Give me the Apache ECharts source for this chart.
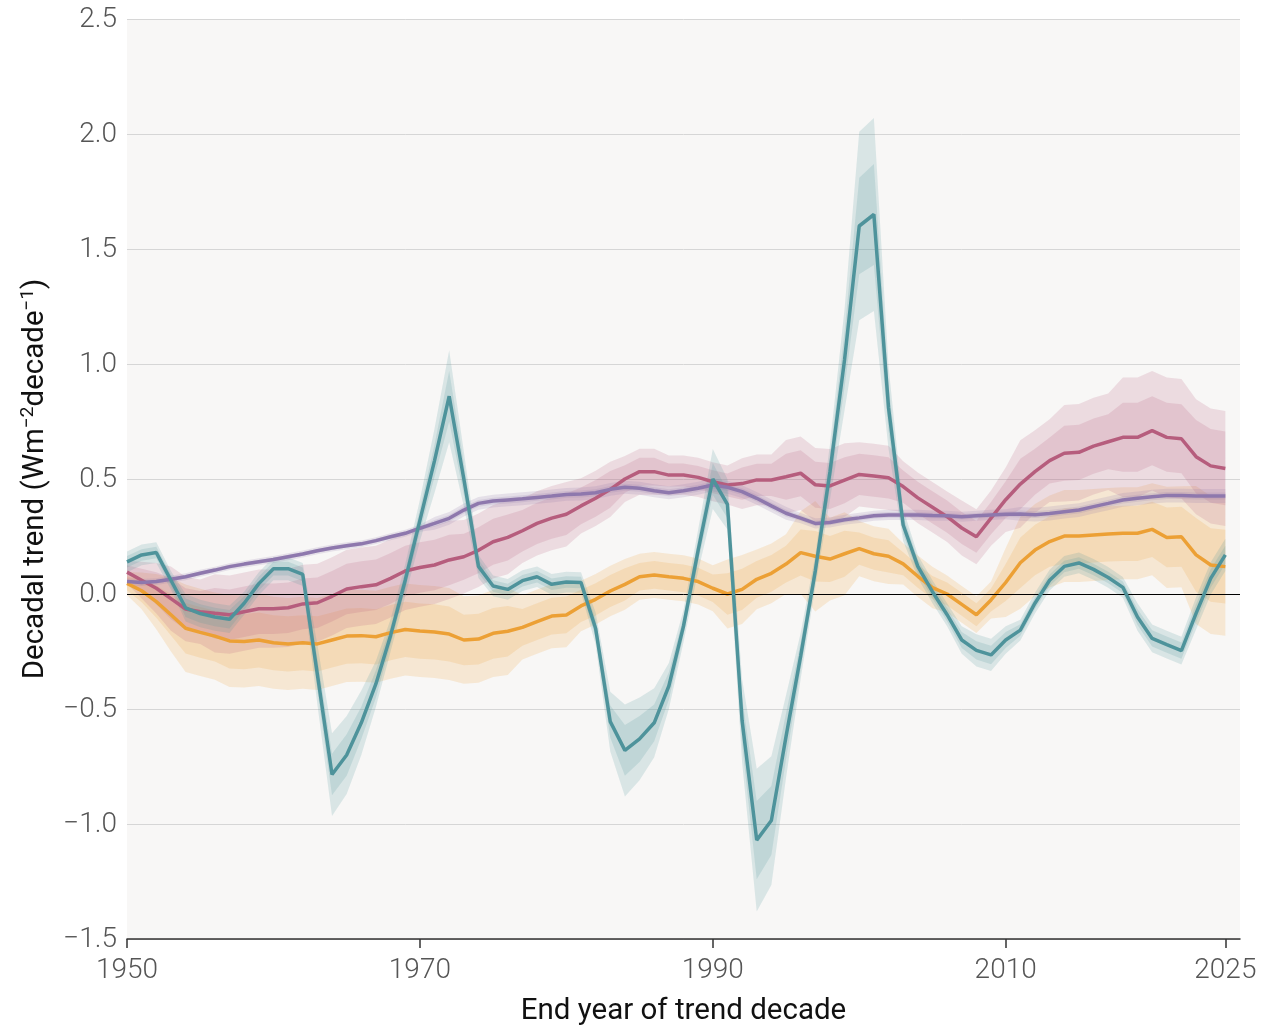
<!DOCTYPE html>
<html>
<head>
<meta charset="utf-8">
<script src="https://cdn.jsdelivr.net/npm/echarts@6/dist/echarts.min.js"></script>
<style>
  html, body { margin: 0; padding: 0; background: #ffffff; }
  #chart { width: 1261px; height: 1026px; }
</style>
</head>
<body>
<div id="chart"></div>
<script>
// end years of the trend decade, 1950..2025
const firstYear = 1950;
const tickYears = [1950, 1970, 1990, 2010, 2025];

// teal series (most variable)
const tealMean = [0.14, 0.17, 0.18, 0.06, -0.06, -0.085, -0.10, -0.11, -0.04, 0.045,
  0.11, 0.11, 0.085, -0.35, -0.785, -0.70, -0.56, -0.39, -0.18, 0.06,
  0.32, 0.58, 0.86, 0.50, 0.12, 0.035, 0.02, 0.058, 0.075, 0.042,
  0.052, 0.05, -0.15, -0.555, -0.68, -0.63, -0.56, -0.40, -0.14, 0.19,
  0.50, 0.39, -0.55, -1.07, -0.985, -0.62, -0.27, 0.10, 0.53, 1.02,
  1.60, 1.65, 0.81, 0.30, 0.12, 0.01, -0.09, -0.20, -0.245, -0.265,
  -0.20, -0.157, -0.04, 0.06, 0.12, 0.135, 0.107, 0.072, 0.029, -0.10,
  -0.193, -0.22, -0.246, -0.084, 0.068, 0.17];
const tealInner = [0.025, 0.025, 0.025, 0.025, 0.04, 0.04, 0.04, 0.04, 0.03, 0.03,
  0.03, 0.03, 0.03, 0.07, 0.09, 0.09, 0.07, 0.06, 0.04, 0.04,
  0.05, 0.07, 0.11, 0.07, 0.03, 0.025, 0.025, 0.025, 0.025, 0.025,
  0.025, 0.025, 0.04, 0.07, 0.11, 0.10, 0.08, 0.06, 0.04, 0.05,
  0.07, 0.06, 0.10, 0.17, 0.15, 0.10, 0.06, 0.04, 0.07, 0.12,
  0.21, 0.22, 0.10, 0.04, 0.03, 0.03, 0.03, 0.035, 0.04, 0.04,
  0.035, 0.025, 0.025, 0.025, 0.025, 0.025, 0.025, 0.025, 0.025, 0.035,
  0.035, 0.035, 0.035, 0.04, 0.04, 0.04];
const tealOuter = [0.045, 0.045, 0.045, 0.04, 0.06, 0.06, 0.06, 0.06, 0.05, 0.05,
  0.05, 0.05, 0.05, 0.13, 0.18, 0.17, 0.14, 0.10, 0.07, 0.07,
  0.09, 0.14, 0.20, 0.12, 0.05, 0.045, 0.045, 0.045, 0.045, 0.045,
  0.045, 0.045, 0.07, 0.13, 0.20, 0.18, 0.15, 0.10, 0.07, 0.09,
  0.13, 0.11, 0.18, 0.31, 0.28, 0.18, 0.10, 0.07, 0.12, 0.22,
  0.41, 0.42, 0.18, 0.07, 0.05, 0.05, 0.05, 0.06, 0.07, 0.07,
  0.06, 0.045, 0.045, 0.045, 0.045, 0.045, 0.045, 0.045, 0.045, 0.06,
  0.06, 0.06, 0.06, 0.07, 0.07, 0.07];

// crimson series
const redMean = [0.095, 0.06, 0.025, -0.02, -0.065, -0.077, -0.084, -0.09, -0.077, -0.064,
  -0.064, -0.06, -0.043, -0.038, -0.01, 0.022, 0.032, 0.04, 0.068, 0.10,
  0.115, 0.126, 0.148, 0.162, 0.19, 0.227, 0.246, 0.275, 0.307, 0.33,
  0.347, 0.383, 0.416, 0.455, 0.50, 0.532, 0.532, 0.517, 0.517, 0.507,
  0.488, 0.474, 0.48, 0.496, 0.496, 0.51, 0.525, 0.475, 0.47, 0.495,
  0.52, 0.513, 0.505, 0.467, 0.418, 0.377, 0.336, 0.287, 0.249, 0.33,
  0.41, 0.478, 0.532, 0.58, 0.612, 0.616, 0.643, 0.662, 0.681, 0.681,
  0.71, 0.681, 0.675, 0.597, 0.557, 0.546];
const redInner = [0.03, 0.05, 0.07, 0.09, 0.09, 0.09, 0.11, 0.11, 0.11, 0.11,
  0.11, 0.11, 0.11, 0.11, 0.11, 0.11, 0.11, 0.11, 0.11, 0.11,
  0.11, 0.11, 0.11, 0.10, 0.10, 0.10, 0.10, 0.09, 0.09, 0.09,
  0.09, 0.08, 0.08, 0.08, 0.06, 0.06, 0.06, 0.05, 0.05, 0.05,
  0.05, 0.05, 0.07, 0.07, 0.07, 0.10, 0.10, 0.10, 0.10, 0.10,
  0.09, 0.09, 0.09, 0.07, 0.07, 0.07, 0.07, 0.07, 0.07, 0.07,
  0.08, 0.11, 0.10, 0.10, 0.12, 0.12, 0.12, 0.12, 0.15, 0.15,
  0.15, 0.15, 0.15, 0.16, 0.16, 0.16];
const redOuter = [0.05, 0.08, 0.11, 0.14, 0.14, 0.14, 0.17, 0.17, 0.17, 0.17,
  0.17, 0.17, 0.17, 0.17, 0.17, 0.17, 0.17, 0.17, 0.17, 0.17,
  0.17, 0.17, 0.17, 0.16, 0.16, 0.16, 0.16, 0.14, 0.14, 0.14,
  0.14, 0.12, 0.12, 0.12, 0.10, 0.10, 0.10, 0.085, 0.085, 0.085,
  0.085, 0.085, 0.11, 0.11, 0.11, 0.16, 0.16, 0.16, 0.16, 0.16,
  0.14, 0.14, 0.14, 0.11, 0.11, 0.11, 0.11, 0.12, 0.12, 0.12,
  0.14, 0.19, 0.18, 0.18, 0.21, 0.21, 0.21, 0.21, 0.26, 0.26,
  0.26, 0.26, 0.26, 0.25, 0.25, 0.25];

// purple series (smooth)
const purpleMean = [0.054, 0.05, 0.054, 0.064, 0.075, 0.09, 0.104, 0.119, 0.13, 0.14,
  0.15, 0.162, 0.174, 0.188, 0.20, 0.21, 0.218, 0.232, 0.249, 0.264,
  0.286, 0.307, 0.329, 0.365, 0.394, 0.404, 0.409, 0.414, 0.42, 0.426,
  0.433, 0.435, 0.44, 0.455, 0.464, 0.46, 0.449, 0.44, 0.449, 0.46,
  0.474, 0.464, 0.445, 0.416, 0.383, 0.351, 0.33, 0.307, 0.311, 0.323,
  0.331, 0.34, 0.344, 0.344, 0.344, 0.341, 0.34, 0.336, 0.34, 0.344,
  0.347, 0.348, 0.345, 0.35, 0.358, 0.365, 0.38, 0.394, 0.409, 0.416,
  0.423, 0.428, 0.428, 0.426, 0.426, 0.426];
const purpleInner = [0.008, 0.008, 0.008, 0.008, 0.008, 0.008, 0.008, 0.008, 0.008, 0.008,
  0.008, 0.008, 0.008, 0.008, 0.008, 0.008, 0.008, 0.008, 0.008, 0.008,
  0.008, 0.015, 0.015, 0.015, 0.015, 0.015, 0.015, 0.015, 0.015, 0.015,
  0.015, 0.015, 0.015, 0.015, 0.015, 0.015, 0.015, 0.015, 0.015, 0.015,
  0.015, 0.015, 0.015, 0.015, 0.015, 0.015, 0.012, 0.012, 0.012, 0.012,
  0.012, 0.012, 0.012, 0.012, 0.012, 0.012, 0.012, 0.012, 0.012, 0.012,
  0.012, 0.015, 0.015, 0.015, 0.015, 0.015, 0.015, 0.015, 0.015, 0.015,
  0.015, 0.015, 0.015, 0.015, 0.015, 0.015];
const purpleOuter = [0.015, 0.015, 0.015, 0.015, 0.015, 0.015, 0.015, 0.015, 0.015, 0.015,
  0.015, 0.015, 0.015, 0.015, 0.015, 0.015, 0.015, 0.015, 0.015, 0.015,
  0.015, 0.028, 0.028, 0.028, 0.028, 0.028, 0.028, 0.028, 0.028, 0.028,
  0.028, 0.028, 0.028, 0.028, 0.028, 0.028, 0.028, 0.028, 0.028, 0.028,
  0.028, 0.028, 0.028, 0.028, 0.028, 0.028, 0.022, 0.022, 0.022, 0.022,
  0.022, 0.022, 0.022, 0.022, 0.022, 0.022, 0.022, 0.022, 0.022, 0.022,
  0.022, 0.03, 0.03, 0.03, 0.03, 0.03, 0.03, 0.03, 0.03, 0.03,
  0.03, 0.03, 0.03, 0.03, 0.03, 0.03];

// orange series
const orangeMean = [0.046, 0.014, -0.033, -0.09, -0.149, -0.167, -0.183, -0.204, -0.207, -0.20,
  -0.212, -0.217, -0.212, -0.217, -0.20, -0.183, -0.181, -0.186, -0.168, -0.154,
  -0.161, -0.165, -0.174, -0.20, -0.196, -0.171, -0.162, -0.145, -0.12, -0.096,
  -0.091, -0.052, -0.023, 0.013, 0.042, 0.075, 0.083, 0.075, 0.068, 0.054,
  0.025, 0.0, 0.02, 0.064, 0.09, 0.13, 0.18, 0.164, 0.152, 0.175,
  0.197, 0.175, 0.164, 0.131, 0.077, 0.028, 0.0, -0.045, -0.09, -0.026,
  0.05, 0.136, 0.191, 0.228, 0.252, 0.252, 0.257, 0.261, 0.264, 0.264,
  0.281, 0.246, 0.249, 0.17, 0.126, 0.119];
const orangeInner = [0.03, 0.05, 0.07, 0.09, 0.11, 0.11, 0.11, 0.12, 0.12, 0.12,
  0.12, 0.12, 0.12, 0.12, 0.12, 0.12, 0.12, 0.12, 0.12, 0.12,
  0.12, 0.12, 0.12, 0.11, 0.11, 0.11, 0.11, 0.08, 0.08, 0.08,
  0.08, 0.07, 0.07, 0.07, 0.07, 0.06, 0.06, 0.06, 0.06, 0.06,
  0.06, 0.09, 0.09, 0.08, 0.08, 0.08, 0.10, 0.11, 0.10, 0.10,
  0.07, 0.07, 0.07, 0.05, 0.05, 0.05, 0.05, 0.05, 0.05, 0.05,
  0.08, 0.11, 0.11, 0.11, 0.12, 0.12, 0.12, 0.12, 0.12, 0.12,
  0.12, 0.13, 0.13, 0.16, 0.16, 0.16];
const orangeOuter = [0.05, 0.08, 0.12, 0.16, 0.19, 0.19, 0.19, 0.20, 0.20, 0.20,
  0.20, 0.20, 0.20, 0.20, 0.20, 0.20, 0.20, 0.20, 0.20, 0.20,
  0.20, 0.20, 0.20, 0.19, 0.19, 0.19, 0.19, 0.14, 0.14, 0.14,
  0.14, 0.11, 0.11, 0.11, 0.11, 0.10, 0.10, 0.10, 0.10, 0.10,
  0.10, 0.15, 0.15, 0.13, 0.13, 0.13, 0.18, 0.24, 0.18, 0.18,
  0.12, 0.12, 0.12, 0.09, 0.09, 0.09, 0.08, 0.08, 0.08, 0.08,
  0.15, 0.20, 0.20, 0.20, 0.20, 0.20, 0.20, 0.20, 0.20, 0.20,
  0.20, 0.22, 0.22, 0.30, 0.30, 0.30];

const colors = {
  teal: '#4e939b',
  red: '#b65d7d',
  purple: '#8e78ad',
  orange: '#eca035'
};

function pairs(values) {
  return values.map(function (v, i) { return [firstYear + i, v]; });
}

// shaded band: one polygon through the library's coordinate system
function bandSeries(mean, halfWidth, color, z) {
  const n = mean.length;
  return {
    type: 'custom',
    silent: true,
    z: z,
    data: [[firstYear, mean[0]]],
    renderItem: function (params, api) {
      const pts = [];
      for (let i = 0; i < n; i++) {
        pts.push(api.coord([firstYear + i, mean[i] + halfWidth[i]]));
      }
      for (let i = n - 1; i >= 0; i--) {
        pts.push(api.coord([firstYear + i, mean[i] - halfWidth[i]]));
      }
      return {
        type: 'polygon',
        shape: { points: pts },
        style: { fill: color, opacity: 0.18 }
      };
    }
  };
}

function lineSeries(mean, color, z) {
  return {
    type: 'line',
    data: pairs(mean),
    symbol: 'none',
    silent: true,
    lineStyle: { color: color, width: 3.5 },
    z: z
  };
}

function minus(s) {
  return s.replace('-', '\u2212');
}

var myChart = echarts.init(document.getElementById('chart'));

var series = [
  bandSeries(orangeMean, orangeOuter, colors.orange, 1),
  bandSeries(orangeMean, orangeInner, colors.orange, 1),
  bandSeries(redMean, redOuter, colors.red, 1),
  bandSeries(redMean, redInner, colors.red, 1),
  bandSeries(purpleMean, purpleOuter, colors.purple, 1),
  bandSeries(purpleMean, purpleInner, colors.purple, 1),
  bandSeries(tealMean, tealOuter, colors.teal, 1),
  bandSeries(tealMean, tealInner, colors.teal, 1),
  {
    type: 'line',
    data: [],
    silent: true,
    z: 2,
    markLine: {
      silent: true,
      symbol: ['none', 'none'],
      label: { show: false },
      lineStyle: { color: '#000000', width: 1, type: 'solid' },
      data: [{ yAxis: 0 }]
    }
  },
  lineSeries(orangeMean, colors.orange, 3),
  lineSeries(redMean, colors.red, 4),
  lineSeries(purpleMean, colors.purple, 5),
  lineSeries(tealMean, colors.teal, 6)
];

var labelFont = "'Roboto Light', Roboto, sans-serif";

var option = {
  animation: false,
  backgroundColor: '#ffffff',
  grid: {
    left: 127,
    right: 21,
    top: 19,
    bottom: 87,
    outerBoundsMode: 'none',
    containLabel: false,
    show: true,
    backgroundColor: '#f8f7f6',
    borderWidth: 0
  },
  xAxis: {
    type: 'value',
    min: 1950,
    max: 2026,
    name: 'End year of trend decade',
    nameLocation: 'middle',
    nameGap: 58,
    nameTextStyle: { fontFamily: 'Roboto', fontSize: 29.5, color: '#111111' },
    axisLine: { show: true, onZero: false, lineStyle: { color: '#333333', width: 1.5 } },
    axisTick: { show: true, length: 9, customValues: tickYears, lineStyle: { color: '#333333', width: 1.5 } },
    axisLabel: {
      customValues: tickYears,
      margin: 17,
      fontFamily: labelFont,
      fontWeight: 300,
      fontSize: 28,
      color: '#555555',
      formatter: function (v) { return String(v); }
    },
    splitLine: { show: false }
  },
  yAxis: {
    type: 'value',
    min: -1.5,
    max: 2.5,
    interval: 0.5,
    name: 'Decadal trend (Wm{sup|\u22122}decade{sup|\u22121})',
    nameLocation: 'middle',
    nameGap: 74,
    nameRotate: 90,
    nameTextStyle: {
      fontFamily: 'Roboto',
      fontSize: 29.5,
      color: '#111111',
      rich: {
        sup: { fontFamily: 'Roboto', fontSize: 19, color: '#111111', padding: [0, 0, 15, 0] }
      }
    },
    axisLine: { show: false },
    axisTick: { show: false },
    axisLabel: {
      margin: 10,
      fontFamily: labelFont,
      fontWeight: 300,
      fontSize: 28,
      color: '#555555',
      formatter: function (v) { return minus(v.toFixed(1)); }
    },
    splitLine: { show: true, lineStyle: { color: '#d6d6d6', width: 1 } }
  },
  series: series
};

myChart.setOption(option);

window.addEventListener('resize', function () {
  myChart.resize();
});
</script>
</body>
</html>
